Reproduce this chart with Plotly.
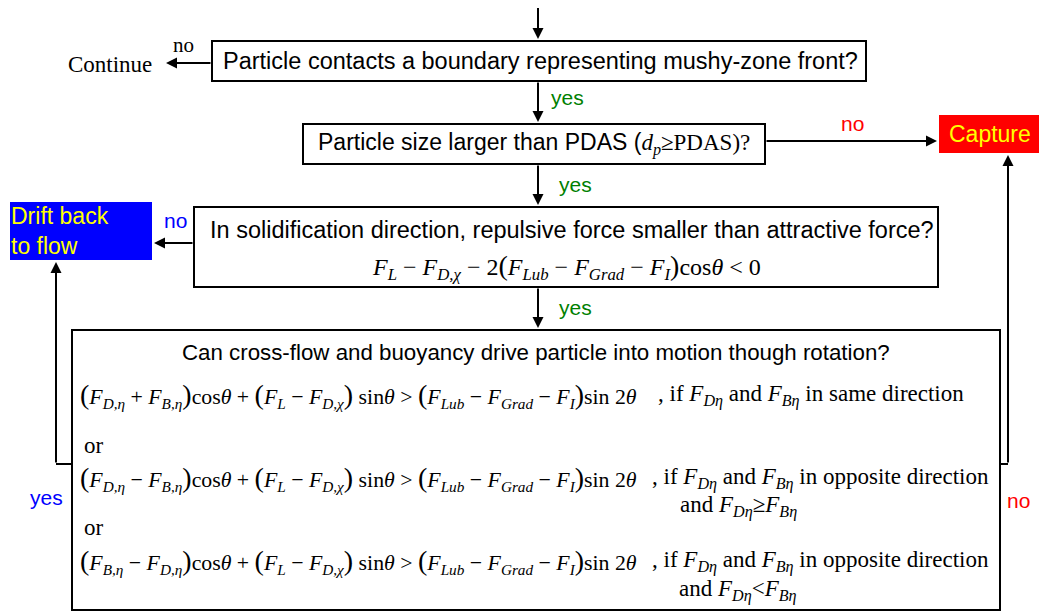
import plotly.graph_objects as go

W, H = 1047, 612
OFF = 8  # page body margin compensation

# ---- text content ----
question_labels = [
    "Particle contacts a boundary representing mushy-zone front?",
    "Particle size larger than PDAS (<span style='font-family:Liberation Serif'><i>d<sub>p</sub></i>≥PDAS)?</span>",
    "In solidification direction, repulsive force smaller than attractive force?",
    "Can cross-flow and buoyancy drive particle into motion though rotation?",
]
outcome_labels = ["Continue", "Capture", "Drift back<br>to flow"]
branch_labels = ["no", "yes", "no", "yes", "no", "yes", "yes", "no"]

P_L = "<span style='font-size:28px'>(</span>"
P_R = "<span style='font-size:28px'>)</span>"
cond_formula = ("<i>F<sub>L</sub></i> − <i>F<sub>D,χ</sub></i> − 2" + P_L + "<i>F<sub>Lub</sub></i> − "
                "<i>F<sub>Grad</sub></i> − <i>F<sub>I</sub></i>" + P_R + "cos<i>θ</i> &lt; 0")
rhs = " sin<i>θ</i> &gt; " + P_L + "<i>F<sub>Lub</sub></i> − <i>F<sub>Grad</sub></i> − <i>F<sub>I</sub></i>" + P_R + "sin 2<i>θ</i>"
mid = "cos<i>θ</i> + " + P_L + "<i>F<sub>L</sub></i> − <i>F<sub>D,χ</sub></i>" + P_R
rot_formulas = [
    P_L + "<i>F<sub>D,η</sub></i> + <i>F<sub>B,η</sub></i>" + P_R + mid + rhs,
    P_L + "<i>F<sub>D,η</sub></i> − <i>F<sub>B,η</sub></i>" + P_R + mid + rhs,
    P_L + "<i>F<sub>B,η</sub></i> − <i>F<sub>D,η</sub></i>" + P_R + mid + rhs,
]
FD = "<i>F<sub>Dη</sub></i>"
FB = "<i>F<sub>Bη</sub></i>"
rot_conditions = [
    ", if " + FD + " and " + FB + " in same direction",
    ", if " + FD + " and " + FB + " in opposite direction",
    ", if " + FD + " and " + FB + " in opposite direction",
]
rot_extra = ["and " + FD + "≥" + FB, "and " + FD + "&lt;" + FB]

SANS = "Liberation Sans, Arial"
SERIF = "Liberation Serif, Times New Roman"
GREEN = "#008000"
RED = "#ff0000"
BLUE = "#0000ff"
YELLOW = "#ffff00"
FS = 23

fig = go.Figure()
shapes = []
ann = []


def box(x0, y0, x1, y1, fill="white", line="black", lw=2):
    shapes.append(dict(type="rect", xref="x", yref="y", x0=x0, y0=y0, x1=x1, y1=y1,
                       fillcolor=fill, line=dict(color=line, width=lw), layer="below"))


def seg(x0, y0, x1, y1):
    shapes.append(dict(type="line", xref="x", yref="y", x0=x0, y0=y0, x1=x1, y1=y1,
                       line=dict(color="black", width=2)))


def arrow(x0, y0, x1, y1):
    ann.append(dict(x=x1, y=y1, ax=x0, ay=y0, xref="x", yref="y", axref="x", ayref="y",
                    text="", showarrow=True, arrowhead=2, arrowsize=1.1, arrowwidth=2,
                    arrowcolor="black"))


def text(x, y, s, size=FS, color="black", family=SANS, xanchor="center", align="center"):
    ann.append(dict(x=x, y=y, xref="x", yref="y", text=s, showarrow=False,
                    font=dict(size=size, color=color, family=family),
                    xanchor=xanchor, yanchor="middle", align=align))


# boxes
box(212, 41, 866, 81)
box(303, 124, 765, 164)
box(194, 207, 938, 287)
box(72, 330, 1000, 610)
box(939, 115, 1042, 153, fill=RED, lw=0, line=RED)
box(10, 202, 152, 260, fill=BLUE, lw=0, line=BLUE)

# arrows
arrow(538, -10, 538, 39)
arrow(212, 63, 166, 63)
arrow(538, 81, 538, 122)
arrow(765, 141, 937, 141)
arrow(538, 164, 538, 205)
arrow(194, 243, 154, 243)
arrow(538, 287, 538, 328)
seg(72, 464, 56, 464)
arrow(56, 464, 56, 262)
seg(1000, 464, 1008, 464)
arrow(1008, 464, 1008, 155)

# question texts
text(540, 61, question_labels[0], size=23.5)
text(534, 144, question_labels[1])
text(572, 230, question_labels[2], size=23.5)
text(566, 267, cond_formula, size=24, family=SERIF)
text(536, 352, question_labels[3], size=22.3)

# outcomes
text(110, 64, outcome_labels[0], family=SERIF)
text(990, 134, outcome_labels[1], color=YELLOW)
text(9, 231, outcome_labels[2], color=YELLOW, xanchor="left", align="left")

# branch labels
text(183, 45, branch_labels[0], size=21, family=SERIF)
text(567, 97, branch_labels[1], size=21, color=GREEN)
text(852, 123, branch_labels[2], size=21, color=RED)
text(575, 184, branch_labels[3], size=21, color=GREEN)
text(175, 220, branch_labels[4], size=21, color=BLUE)
text(575, 307, branch_labels[5], size=21, color=GREEN)
text(46, 497, branch_labels[6], size=21, color=BLUE)
text(1018, 500, branch_labels[7], size=21, color=RED)

# rotation criteria
ys = [395, 478, 561]
cond_x = [656, 650, 650]
for y, f, c, cx in zip(ys, rot_formulas, rot_conditions, cond_x):
    text(78, y, f, size=21.8, family=SERIF, xanchor="left", align="left")
    text(cx, y, c, family=SERIF, xanchor="left", align="left")
text(738, 506, rot_extra[0], family=SERIF)
text(738, 590, rot_extra[1], family=SERIF)
text(82, 445, "or", family=SERIF, xanchor="left")
text(82, 527, "or", family=SERIF, xanchor="left")

fig.update_layout(
    width=W, height=H, margin=dict(l=0, r=0, t=0, b=0),
    paper_bgcolor="white", plot_bgcolor="white",
    xaxis=dict(range=[OFF, W + OFF], visible=False, fixedrange=True),
    yaxis=dict(range=[H + OFF, OFF], visible=False, fixedrange=True),
    shapes=shapes, annotations=ann, showlegend=False,
)
fig.write_html("out.html")
